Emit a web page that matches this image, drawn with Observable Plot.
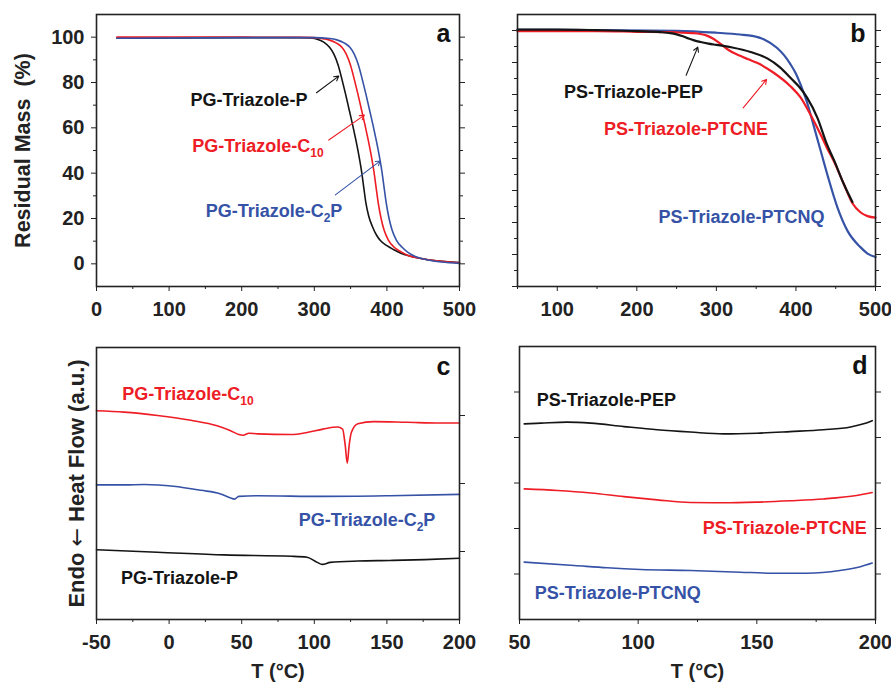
<!DOCTYPE html>
<html><head><meta charset="utf-8">
<script src="https://cdn.jsdelivr.net/npm/d3@7"></script>
<script src="https://cdn.jsdelivr.net/npm/@observablehq/plot@0.6"></script>
<style>
html,body{margin:0;padding:0;background:#fff;}
#fig{position:relative;width:891px;height:685px;overflow:hidden;background:#fff;}
#fig svg{position:absolute;left:0;top:0;}
</style></head><body><div id="fig"></div>
<script>
const W = 891, H = 685;
const BLACK = "#141414", RED = "#ee1c25", BLUE = "#3552a6";
const FONT = "'Liberation Sans', Arial, Helvetica, sans-serif";

// ---------- Panel a: TGA, PG series (T °C, residual mass %) ----------
const tgaPG_P = [[28,99.5],[100,99.7],[200,99.8],[280,99.8],[295,99.6],[305,99],[313,97.8],[321,95.5],[327,92.5],[333,87.5],[338,81.5],[343,75],[348,68],[353,61],[357,55],[361,48.5],[365,41],[368,34],[371,27],[375,21],[380,16.5],[386,12.5],[391,10.3],[400,8],[409,6.3],[420,4.6],[430,3.6],[445,2.5],[465,1.5],[500,0.6]];
const tgaPG_C10 = [[28,100],[200,100],[290,99.9],[310,99.4],[320,98.8],[330,97.5],[338,95.5],[344,92.5],[350,87.5],[355,81.5],[360,75],[365,68],[370,61],[374,55],[378,48.5],[382,41],[385,34],[388,27],[392,20],[396,15],[402,10.5],[410,7.3],[419,5.4],[430,3.6],[445,2.5],[465,1.5],[500,0.5]];
const tgaPG_C2P = [[28,99.5],[200,99.8],[300,99.8],[321,99.4],[331,98.8],[341,97.5],[349,95.5],[355,92.5],[361,87.5],[366,81.5],[371,75],[376,68],[381,61],[385,55],[389,48.5],[393,41],[396,34],[399,27],[403,20],[407,15],[413,10.5],[421,7.3],[430,4.8],[440,3.1],[455,1.8],[475,0.8],[500,0.2]];

// ---------- Panel b: TGA, PS series ----------
const tgaPS_PEP = [[50,100.3],[100,100.3],[150,100.1],[200,99.8],[230,99.5],[242,99.2],[250,98.8],[258,98.2],[265,97.5],[272,96.9],[280,96.4],[290,95.9],[300,95.5],[320,94.7],[343,93.3],[364,91.3],[380,88.5],[394,85],[404,82.4],[414,79],[427,72.7],[439,64.4],[448,59.4],[460,52.1],[471,46.4]];
const tgaPS_PTCNE = [[50,99.8],[150,99.8],[200,99.6],[250,99.4],[268,99.2],[280,98.9],[288,98.4],[295,97.6],[301,96.6],[307,95.5],[313,94.3],[320,93.2],[330,92.1],[340,91],[351,89.9],[372,86.8],[393,82.6],[406,79],[418,73.8],[431,67.5],[439,63.3],[448,59],[460,52.1],[471,46],[481,43.2],[490,42],[500,41.5]];
const tgaPS_PTCNQ = [[50,100.2],[150,100.1],[250,99.9],[300,99.3],[330,98.75],[345,98.3],[360,97.2],[376,94.6],[385,92.3],[393,89.5],[400,86.5],[406,83],[414,77.5],[422,70.5],[431,62.5],[440,54.5],[452,44.8],[465,37.3],[481,32.3],[490,30.3],[500,29.2]];

// ---------- Panel c: DSC, PG series (T °C, heat flow a.u.) ----------
const dscPG_C10 = [[-50,3.07],[-31,3.05],[-8,3.0],[15,2.93],[33,2.85],[42,2.78],[48,2.72],[51,2.71],[55,2.74],[61,2.73],[84,2.72],[95,2.75],[106,2.8],[116,2.83],[119.5,2.8],[121.3,2.56],[122.7,2.30],[124,2.56],[125.5,2.75],[130,2.88],[141,2.91],[164,2.9],[187,2.89],[200,2.89]];
const dscPG_C2P = [[-50,1.98],[-31,1.98],[-17,1.985],[3,1.96],[22,1.90],[35,1.85],[42,1.79],[45,1.77],[48,1.81],[61,1.82],[106,1.81],[152,1.82],[200,1.84]];
const dscPG_P = [[-50,1.025],[-8,0.99],[38,0.95],[84,0.93],[95,0.916],[102,0.84],[105.5,0.81],[111,0.84],[130,0.86],[152,0.868],[176,0.88],[200,0.9]];

// ---------- Panel d: DSC, PS series ----------
const dscPS_PEP = [[52,4.30],[59,4.315],[70,4.337],[80,4.315],[94,4.24],[108,4.17],[122,4.12],[136,4.08],[150,4.095],[164,4.13],[178,4.17],[189.5,4.23],[195,4.30],[198.6,4.37]];
const dscPS_PTCNE = [[52,2.87],[66,2.835],[80,2.78],[94,2.70],[108,2.63],[122,2.57],[136,2.565],[150,2.58],[164,2.61],[178,2.65],[192,2.725],[198.6,2.79]];
const dscPS_PTCNQ = [[52,1.26],[73,1.187],[87,1.136],[101,1.10],[122,1.077],[143,1.04],[157,1.018],[171,1.018],[185,1.077],[194,1.165],[198.6,1.24]];

// ---------- tick values ----------
const ticksA_x = [0,100,200,300,400,500], minorA_x = [50,150,250,350,450];
const ticksA_y = [0,20,40,60,80,100], minorA_y = [10,30,50,70,90];
const ticksB_x = [100,200,300,400,500], minorB_x = [50,150,250,350,450];
const ticksB_y = [20,30,40,50,60,70,80,90,100], minorB_y = [25,35,45,55,65,75,85,95];
const ticksC_x = [-50,0,50,100,150,200], minorC_x = [-25,25,75,125,175];
const ticksC_y = [1,2,3];
const ticksD_x = [50,100,150,200], minorD_x = [75,125,175];
const ticksD_y = [1,2,3,4,5];

// ---------- annotation labels (text, x, y in data units) ----------
const labelsA = [["PG-Triazole-P",210,72.2],["PG-Triazole-C_{10}",222.5,51.7],["PG-Triazole-C_{2}P",244.5,23]];
const arrowsA = [[303,75.5,333.7,82.8],[320,54.6,369,65.6],[329,30.4,391,45.4]];
const labelsB = [["PS-Triazole-PEP",195.8,80.7],["PS-Triazole-PTCNE",261.8,69.3],["PS-Triazole-PTCNQ",331.6,41.7]];
const arrowsB = [[262,86,276.6,94.8],[333.7,75.8,363,84.7]];
const labelsC = [["PG-Triazole-C_{10}",13,3.32],["PG-Triazole-C_{2}P",136.3,1.456],["PG-Triazole-P",7.2,0.603]];
const labelsD = [["PS-Triazole-PEP",86.6,4.83],["PS-Triazole-PTCNE",161.8,2.01],["PS-Triazole-PTCNQ",91.4,0.578]];
const panelLetters = ["a","b","c","d"];
const titleTGA = "Residual Mass\u00a0\u00a0(%)";
const titleDSC = "Endo \u2190 Heat Flow (a.u.)";
const titleT = "T (\u00b0C)";

const COLORS = [BLACK, RED, BLUE];
const SVGNS = "http://www.w3.org/2000/svg";

function richText(svg) {
  svg.querySelectorAll("text").forEach(t => {
    const s = t.textContent;
    if (s.includes("_{")) {
      const parts = s.split(/_\{(.*?)\}/);
      t.textContent = "";
      parts.forEach((p, i) => {
        if (!p) return;
        const ts = document.createElementNS(SVGNS, "tspan");
        ts.textContent = p;
        if (i % 2 === 1) { ts.setAttribute("dy", "5"); ts.setAttribute("font-size", "12"); }
        else if (i > 0) ts.setAttribute("dy", "-5");
        t.appendChild(ts);
      });
    } else if (s.includes("\u2190")) {
      const parts = s.split("\u2190");
      t.textContent = "";
      const a = document.createElementNS(SVGNS, "tspan"); a.textContent = parts[0];
      const b = document.createElementNS(SVGNS, "tspan"); b.textContent = "\u2190";
      b.setAttribute("font-family", "DejaVu Sans"); b.setAttribute("font-weight", "normal");
      const c = document.createElementNS(SVGNS, "tspan"); c.textContent = parts[1];
      t.append(a, b, c);
    }
  });
}

const line = (data, color, sw) => Plot.line(data, {x: d => d[0], y: d => d[1], stroke: color, strokeWidth: sw, curve: "monotone-x"});
const label = (lab, color) => Plot.text([lab], {x: d => d[1], y: d => d[2], text: d => d[0], fill: color, fontSize: 18, textAnchor: "middle", lineAnchor: "middle"});
const arrow = (a, color) => Plot.arrow([a], {x1: d => d[0], y1: d => d[1], x2: d => d[2], y2: d => d[3], stroke: color, strokeWidth: 1.1, headLength: 7});
const letter = (ch, dx) => Plot.text([ch], {frameAnchor: "top-right", dx, dy: 19, textAnchor: "end", lineAnchor: "middle", fontSize: 25, fill: "#111"});
const blank = () => "";

function panel(box, xDomain, yDomain, marks) {
  const [l, t, r, b] = box;
  const svg = Plot.plot({
    width: W, height: H,
    marginLeft: l, marginRight: W - r, marginTop: t, marginBottom: H - b,
    x: {domain: xDomain}, y: {domain: yDomain},
    style: {fontFamily: FONT, fontSize: "20px", fontWeight: "bold", background: "transparent", overflow: "visible", color: "#222"},
    marks
  });
  richText(svg);
  document.getElementById("fig").appendChild(svg);
}

// Panel a
panel([96, 14, 459, 286], [0, 500], [-10, 110], [
  Plot.axisX({ticks: ticksA_x, tickSize: 5, tickPadding: 10, tickFormat: d => String(d), label: null}),
  Plot.axisX({ticks: minorA_x, tickSize: 3, tickFormat: blank, label: null}),
  Plot.axisY({ticks: ticksA_y, tickSize: 5, tickPadding: 7, tickFormat: d => String(d), label: null}),
  Plot.axisY({ticks: [], label: titleTGA, labelAnchor: "center", labelArrow: "none", labelOffset: 82, fontSize: 21.5}),
  Plot.axisY({ticks: minorA_y, tickSize: 3, tickFormat: blank, label: null}),
  Plot.axisY({anchor: "right", ticks: ticksA_y, tickSize: 5, tickFormat: blank, label: null}),
  Plot.axisY({anchor: "right", ticks: minorA_y, tickSize: 3, tickFormat: blank, label: null}),
  line(tgaPG_P, BLACK, 1.6), line(tgaPG_C10, RED, 1.6), line(tgaPG_C2P, BLUE, 1.6),
  ...labelsA.map((d, i) => label(d, COLORS[i])),
  ...arrowsA.map((d, i) => arrow(d, COLORS[i])),
  letter(panelLetters[0], -9),
  Plot.frame({stroke: "#222", strokeWidth: 1.6})
]);

// Panel b
panel([517, 14, 875, 286], [50, 500], [20, 105], [
  Plot.axisX({ticks: ticksB_x, tickSize: 5, tickPadding: 10, tickFormat: d => String(d), label: null}),
  Plot.axisX({ticks: minorB_x, tickSize: 3, tickFormat: blank, label: null}),
  Plot.axisY({ticks: ticksB_y, tickSize: 5, tickFormat: blank, label: null}),
  Plot.axisY({ticks: minorB_y, tickSize: 3, tickFormat: blank, label: null}),
  Plot.axisY({anchor: "right", ticks: ticksB_y, tickSize: 5, tickFormat: blank, label: null}),
  Plot.axisY({anchor: "right", ticks: minorB_y, tickSize: 3, tickFormat: blank, label: null}),
  line(tgaPS_PTCNQ, BLUE, 2.2), line(tgaPS_PTCNE, RED, 2.2), line(tgaPS_PEP, BLACK, 2.2),
  ...labelsB.map((d, i) => label(d, COLORS[i])),
  ...arrowsB.map((d, i) => arrow(d, COLORS[i])),
  letter(panelLetters[1], -10),
  Plot.frame({stroke: "#222", strokeWidth: 1.6})
]);

// Panel c
panel([96, 347, 459, 619], [-50, 200], [0, 4], [
  Plot.axisX({ticks: ticksC_x, tickSize: 5, tickPadding: 10, tickFormat: d => String(d), label: titleT, labelAnchor: "center", labelArrow: "none", labelOffset: 58}),
  Plot.axisX({ticks: minorC_x, tickSize: 3, tickFormat: blank, label: null}),
  Plot.axisY({ticks: [], label: titleDSC, labelAnchor: "center", labelArrow: "none", labelOffset: 28, fontSize: 22}),
  Plot.axisY({anchor: "right", ticks: ticksC_y, tickSize: 5, tickFormat: blank, label: null}),
  line(dscPG_C10, RED, 1.6), line(dscPG_C2P, BLUE, 1.6), line(dscPG_P, BLACK, 1.6),
  label(labelsC[0], RED), label(labelsC[1], BLUE), label(labelsC[2], BLACK),
  letter(panelLetters[2], -9),
  Plot.frame({stroke: "#222", strokeWidth: 1.6})
]);

// Panel d
panel([519, 346, 875, 619], [50, 200], [0, 6], [
  Plot.axisX({ticks: ticksD_x, tickSize: 5, tickPadding: 10, tickFormat: d => String(d), label: titleT, labelAnchor: "center", labelArrow: "none", labelOffset: 58}),
  Plot.axisX({ticks: minorD_x, tickSize: 3, tickFormat: blank, label: null}),
  Plot.axisY({ticks: ticksD_y, tickSize: 5, tickFormat: blank, label: null}),
  Plot.axisY({anchor: "right", ticks: ticksD_y, tickSize: 5, tickFormat: blank, label: null}),
  line(dscPS_PEP, BLACK, 1.6), line(dscPS_PTCNE, RED, 1.6), line(dscPS_PTCNQ, BLUE, 1.6),
  label(labelsD[0], BLACK), label(labelsD[1], RED), label(labelsD[2], BLUE),
  letter(panelLetters[3], -8),
  Plot.frame({stroke: "#222", strokeWidth: 1.6})
]);
</script></body></html>
